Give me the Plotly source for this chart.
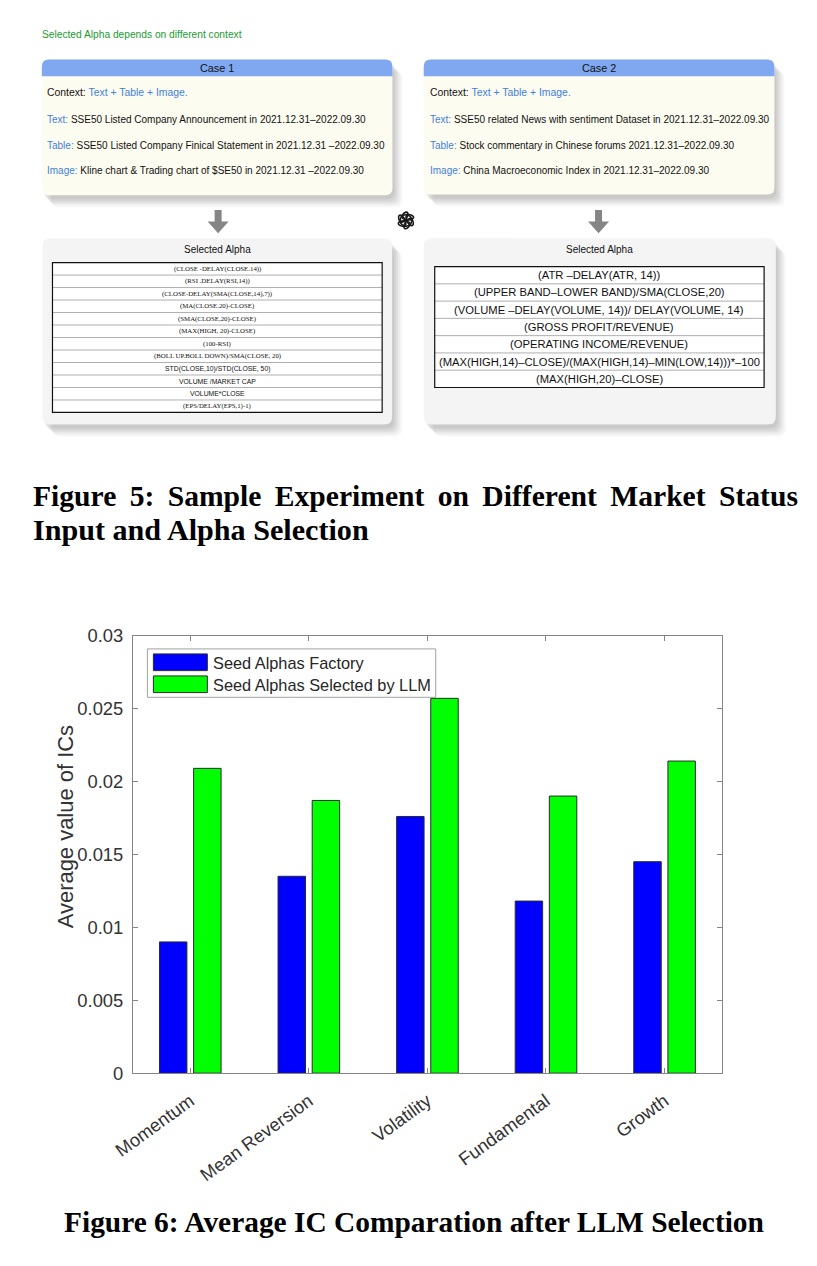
import math
import plotly.graph_objects as go

# ---- data -------------------------------------------------------------
categories = ["Momentum", "Mean Reversion", "Volatility", "Fundamental", "Growth"]
factory_ic = [0.0090, 0.0135, 0.0176, 0.0118, 0.0145]
llm_ic = [0.0209, 0.0187, 0.0257, 0.0190, 0.0214]
series_names = ["Seed Alphas Factory", "Seed Alphas Selected by LLM"]
y_ticks = [0, 0.005, 0.01, 0.015, 0.02, 0.025, 0.03]
y_tick_text = ["0", "0.005", "0.01", "0.015", "0.02", "0.025", "0.03"]

top_note = "Selected Alpha depends on different context"
case_titles = ["Case 1", "Case 2"]
case_context = "Text + Table + Image."
case1_items = [
    ("Text:", "SSE50 Listed Company Announcement in 2021.12.31\u20132022.09.30"),
    ("Table:", "SSE50 Listed Company Finical Statement in 2021.12.31 \u20132022.09.30"),
    ("Image:", "Kline chart & Trading chart of $SE50 in 2021.12.31 \u20132022.09.30"),
]
case2_items = [
    ("Text:", "SSE50 related News with sentiment Dataset in 2021.12.31\u20132022.09.30"),
    ("Table:", "Stock commentary in Chinese forums 2021.12.31\u20132022.09.30"),
    ("Image:", "China Macroeconomic Index in 2021.12.31\u20132022.09.30"),
]
alphas1 = [
    "(CLOSE -DELAY(CLOSE.14))",
    "(RSI .DELAY(RSI,14))",
    "(CLOSE-DELAY(SMA(CLOSE,14),7))",
    "(MA(CLOSE.20)-CLOSE)",
    "(SMA(CLOSE,20)-CLOSE)",
    "(MAX(HIGH, 20)-CLOSE)",
    "(100-RSI)",
    "(BOLL UP.BOLL DOWN)/SMA(CLOSE, 20)",
    "STD(CLOSE,10)/STD(CLOSE, 50)",
    "VOLUME /MARKET CAP",
    "VOLUME*CLOSE",
    "(EPS/DELAY(EPS,1)-1)",
]
alphas1_sans = [False, False, False, False, False, False, False, False, True, True, True, False]
alphas2 = [
    "(ATR \u2013DELAY(ATR, 14))",
    "(UPPER BAND\u2013LOWER BAND)/SMA(CLOSE,20)",
    "(VOLUME \u2013DELAY(VOLUME, 14))/ DELAY(VOLUME, 14)",
    "(GROSS PROFIT/REVENUE)",
    "(OPERATING INCOME/REVENUE)",
    "(MAX(HIGH,14)\u2013CLOSE)/(MAX(HIGH,14)\u2013MIN(LOW,14)))*\u2013100",
    "(MAX(HIGH,20)\u2013CLOSE)",
]
caption5 = ["Figure 5: Sample Experiment on Different Market Status",
            "Input and Alpha Selection"]
caption6 = "Figure 6: Average IC Comparation after LLM Selection"

W, H = 817, 1266
# the photographed page shows the figure slightly shifted/scaled; positions
# below are in picture pixels and these numbers map them onto the figure
OX, OY, SX, SY = 29.2, 17.0, 0.974, 0.984
FS = 1.0 / ((SX + SY) / 2)
SANS = "Liberation Sans"
SERIF = "Liberation Serif"
BLUE_TXT = "#3f80dd"

shapes = []
annotations = []


def fx(x):
    return (x - OX) / SX / W


def fy(y):
    return 1 - (y - OY) / SY / H


def rrect(x0, y0, x1, y1, r, top=True, bottom=True):
    rt = r if top else 0
    rb = r if bottom else 0
    return (f"M{x0+rt},{y0} L{x1-rt},{y0} Q{x1},{y0} {x1},{y0+rt} "
            f"L{x1},{y1-rb} Q{x1},{y1} {x1-rb},{y1} L{x0+rb},{y1} "
            f"Q{x0},{y1} {x0},{y1-rb} L{x0},{y0+rt} Q{x0},{y0} {x0+rt},{y0} Z")


def add_path(path, fill=None, line_color=None, width=0, layer="below"):
    shapes.append(dict(type="path", path=path, xref="x2", yref="y2", layer=layer,
                       fillcolor=fill if fill else "rgba(0,0,0,0)",
                       line=dict(color=line_color if line_color else "rgba(0,0,0,0)",
                                 width=width)))


def add_line(x0, y0, x1, y1, color, width, layer="below"):
    shapes.append(dict(type="line", x0=x0, y0=y0, x1=x1, y1=y1, xref="x2", yref="y2",
                       layer=layer, line=dict(color=color, width=width)))


def add_text(x, y, text, size, color="#111", family=SANS, xanchor="left",
             bold=False, angle=0):
    annotations.append(dict(x=x, y=y, xref="x2", yref="y2", text=text, showarrow=False,
                            xanchor=xanchor, yanchor="middle", textangle=angle,
                            font=dict(size=size * FS, color=color, family=family,
                                      weight="bold" if bold else "normal")))


def shadow(x0, y0, x1, y1, r):
    for dx, dy, a in [(2, 4, 0.05), (4, 6, 0.05), (6, 8, 0.05), (8, 10, 0.04), (10, 12, 0.03)]:
        add_path(rrect(x0 + dx, y0 + dy, x1 + dx, y1 + dy, r), fill=f"rgba(0,0,0,{a})")


# ---- top diagram -----------------------------------------------------------
add_text(39, 33, top_note, 10, color="#1c9a33")

case_boxes = [(41, 57.5, 392, 193.3), (423.3, 57.5, 774.3, 192.7)]
for (x0, y0, x1, y1), title, items in zip(case_boxes, case_titles, [case1_items, case2_items]):
    shadow(x0, y0, x1, y1, 7)
    add_path(rrect(x0, y0, x1, y1, 7), fill="#fdfcf0")
    add_path(rrect(x0, y0, x1, y0 + 16.8, 7, bottom=False), fill="#7fa8f1")
    add_text((x0 + x1) / 2, y0 + 9, title, 10.6, color="#111", xanchor="center")
    tx = x0 + 3 if x0 < 400 else x0 + 4
    add_text(tx, 91, f"Context: <span style='color:{BLUE_TXT}'>{case_context}</span>", 10.2)
    for k, (lab, body) in enumerate(items):
        add_text(tx, 118 + k * 25.3,
                 f"<span style='color:{BLUE_TXT}'>{lab}</span> {body}", 9.8)

# arrows
for cx in [217.5, 598.3]:
    add_path(f"M{cx-3.5},208 L{cx+3.5},208 L{cx+3.5},219.5 L{cx+10.5},219.5 "
             f"L{cx},231.5 L{cx-10.5},219.5 L{cx-3.5},219.5 Z", fill="#858585")

# logo (interlocking petals)
lcx, lcy = 405.5, 218.5
for k in range(6):
    ang = math.radians(k * 60)
    ox, oy = lcx + 3.7 * math.cos(ang), lcy + 3.7 * math.sin(ang)
    rot = ang + math.radians(62)
    pts = []
    for s in range(28):
        t = 2 * math.pi * s / 28
        ex, ey = 5.8 * math.cos(t), 2.7 * math.sin(t)
        pts.append((ox + ex * math.cos(rot) - ey * math.sin(rot),
                    oy + ex * math.sin(rot) + ey * math.cos(rot)))
    add_path("M" + " L".join(f"{px:.2f},{py:.2f}" for px, py in pts) + " Z",
             line_color="#1a1a1a", width=1.6)

# selected alpha boxes
alpha_boxes = [(41.7, 236.7, 391.7, 422.7), (423.3, 236.3, 775.7, 422.7)]
tables = [(51.7, 260.7, 381.7, 410.7), (434.3, 264.7, 764, 385.7)]
for (x0, y0, x1, y1), (tx0, ty0, tx1, ty1), rows, k in zip(
        alpha_boxes, tables, [alphas1, alphas2], [0, 1]):
    shadow(x0, y0, x1, y1, 8)
    add_path(rrect(x0, y0, x1, y1, 8), fill="#f4f4f4")
    add_text((x0 + x1) / 2, 247.7, "Selected Alpha", 9.8, xanchor="center")
    add_path(rrect(tx0, ty0, tx1, ty1, 0), fill="white")
    rh = (ty1 - ty0) / len(rows)
    for i, row in enumerate(rows):
        if i > 0:
            add_line(tx0, ty0 + i * rh, tx1, ty0 + i * rh, "#9a9a9a", 0.8)
        if k == 0:
            fam = SANS if alphas1_sans[i] else SERIF
            size = 6.7
        else:
            fam, size = SANS, 11
        add_text((tx0 + tx1) / 2, ty0 + (i + 0.5) * rh, row, size, color="#111",
                 family=fam, xanchor="center")
    add_path(rrect(tx0, ty0, tx1, ty1, 0), line_color="#111", width=1.2)

# captions (first line stretched to the full text width, like justified text)
line1 = caption5[0].replace(" ", " \u2009")
add_text(30, 494, line1, 29, color="#000", family=SERIF, bold=True)
add_text(30, 528, caption5[1], 29.5, color="#000", family=SERIF, bold=True)
add_text(414, 1221, caption6, 28.8, color="#000", family=SERIF, bold=True, xanchor="center")

# ---- bar chart ---------------------------------------------------------------
fig = go.Figure()
fig.add_trace(go.Bar(x=categories, y=factory_ic, name=series_names[0],
                     marker=dict(color="#0000ff", line=dict(color="#2a2a2a", width=1)),
                     showlegend=False))
fig.add_trace(go.Bar(x=categories, y=llm_ic, name=series_names[1],
                     marker=dict(color="#00ff00", line=dict(color="#2a2a2a", width=1)),
                     showlegend=False))
fig.add_trace(go.Scatter(x=[], y=[], xaxis="x2", yaxis="y2", showlegend=False))

# legend drawn by hand (MATLAB style wide swatches)
lx0, ly0, lx1, ly1 = 146.7, 647.3, 435.3, 695.7
add_path(rrect(lx0, ly0, lx1, ly1, 0), fill="white", line_color="#a0a0a0", width=1,
         layer="above")
for i, (name, col) in enumerate(zip(series_names, ["#0000ff", "#00ff00"])):
    sy0 = 652.3 + i * 22
    add_path(rrect(152.7, sy0, 206.7, sy0 + 16.7, 0), fill=col, line_color="#2a2a2a",
             width=1, layer="above")
    add_text(210.5, sy0 + 9, name, 16.0, color="#262626")

add_text(65, 825, "Average value of ICs", 21.5, color="#333", xanchor="center", angle=-90)

axis_style = dict(showline=True, linecolor="#858585", linewidth=1, mirror="ticks",
                  ticks="inside", ticklen=5, tickcolor="#858585", showgrid=False,
                  zeroline=False)
fig.update_layout(
    width=W, height=H,
    margin=dict(l=0, r=0, t=0, b=0),
    paper_bgcolor="white",
    plot_bgcolor="rgba(0,0,0,0)",
    barmode="group", bargap=0.424, bargroupgap=0.196,
    xaxis=dict(domain=[fx(132.3), fx(721.7)], range=[-0.483, 4.483], anchor="y",
               tickangle=-36, ticklabelstandoff=9,
               tickfont=dict(family=SANS, size=18 * FS, color="#333"), **axis_style),
    yaxis=dict(domain=[fy(1071.8), fy(634)], range=[0, 0.03], anchor="x",
               tickvals=y_ticks, ticktext=y_tick_text, ticklabelstandoff=5,
               tickfont=dict(family=SANS, size=18 * FS, color="#333"), **axis_style),
    xaxis2=dict(domain=[0, 1], range=[OX, OX + SX * W], anchor="y2", visible=False,
                fixedrange=True),
    yaxis2=dict(domain=[0, 1], range=[OY + SY * H, OY], anchor="x2", visible=False,
                fixedrange=True),
    shapes=shapes,
    annotations=annotations,
)

fig.write_html("out.html")
